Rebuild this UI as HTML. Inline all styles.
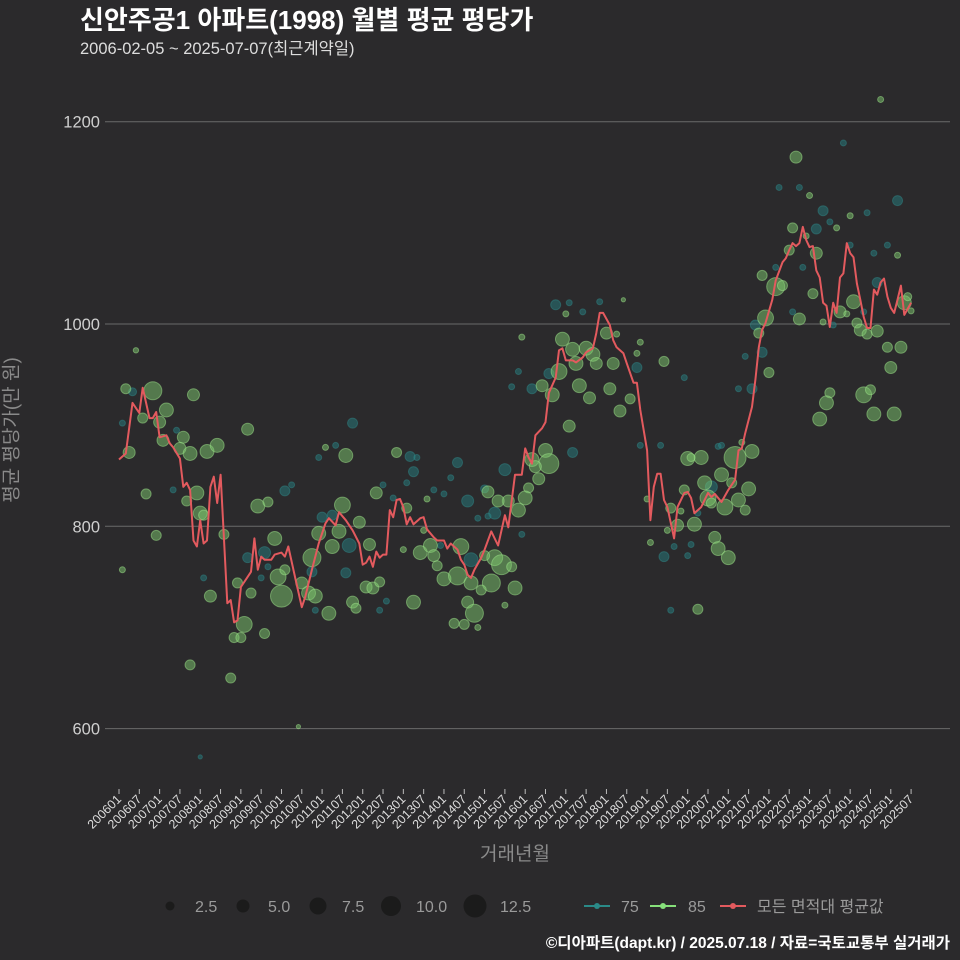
<!DOCTYPE html>
<html lang="ko"><head><meta charset="utf-8"><style>
html,body{margin:0;padding:0;background:#2b2a2c;}
svg{display:block;font-family:"Liberation Sans","Noto Sans CJK KR",sans-serif;}
</style></head><body>
<svg id="chart" width="960" height="960" viewBox="0 0 960 960">
<rect x="0" y="0" width="960" height="960" fill="#2b2a2c"/>
<text x="80" y="29" fill="#ffffff" font-size="26" font-weight="bold">신안주공1 아파트(1998) 월별 평균 평당가</text>
<text x="80" y="54" fill="#dddddd" font-size="16.5">2006-02-05 ~ 2025-07-07(최근계약일)</text>
<g id="grid"></g>
<g id="bub75"></g>
<g id="bub85"></g>
<g id="line"></g>
<g id="xaxis"></g>
<text x="12" y="430" fill="#8a8a8a" font-size="19" text-anchor="middle" transform="rotate(-90 12 430)" dominant-baseline="central">평균 평당가(만 원)</text>
<text x="515" y="860" fill="#8a8a8a" font-size="19" text-anchor="middle">거래년월</text>
<g>
<circle cx="170" cy="906" r="4.5" fill="#1b1b1b"/>
<text x="195" y="912" fill="#9a9a9a" font-size="16">2.5</text>
<circle cx="243" cy="906" r="6.5" fill="#1b1b1b"/>
<text x="268" y="912" fill="#9a9a9a" font-size="16">5.0</text>
<circle cx="318" cy="906" r="8.5" fill="#1b1b1b"/>
<text x="342" y="912" fill="#9a9a9a" font-size="16">7.5</text>
<circle cx="391" cy="906" r="10" fill="#1b1b1b"/>
<text x="416" y="912" fill="#9a9a9a" font-size="16">10.0</text>
<circle cx="475" cy="906" r="11.5" fill="#1b1b1b"/>
<text x="500" y="912" fill="#9a9a9a" font-size="16">12.5</text>
</g>
<g>
<line x1="584" y1="906" x2="610" y2="906" stroke="#2a8a88" stroke-width="2"/>
<circle cx="597" cy="906" r="3" fill="#2a8a88"/>
<text x="621" y="912" fill="#9a9a9a" font-size="16">75</text>
<line x1="650" y1="906" x2="676" y2="906" stroke="#86e07a" stroke-width="2"/>
<circle cx="663" cy="906" r="3" fill="#86e07a"/>
<text x="688" y="912" fill="#9a9a9a" font-size="16">85</text>
<line x1="720" y1="906" x2="746" y2="906" stroke="#e35a5e" stroke-width="2"/>
<circle cx="733" cy="906" r="3" fill="#e35a5e"/>
<text x="757" y="912" fill="#9a9a9a" font-size="16">모든 면적대 평균값</text>
</g>
<text x="950" y="948" fill="#ffffff" font-size="15.5" font-weight="bold" text-anchor="end">©디아파트(dapt.kr) / 2025.07.18 / 자료=국토교통부 실거래가</text>
</svg>
<script>
// months since 2006-01
const yTicks = [600, 800, 1000, 1200];
const xTickLabels = ["200601","200607","200701","200707","200801","200807","200901","200907","201001","201007","201101","201107","201201","201207","201301","201307","201401","201407","201501","201507","201601","201607","201701","201707","201801","201807","201901","201907","202001","202007","202101","202107","202201","202207","202301","202307","202401","202407","202501","202507"];
const lineMonth = [0,2,4,6,7,9,10,11,12,14,15,16,18,19,20,21,22,23,24,25,26,27,28,29,30,31,32,33,34,35,36,38,39,40,41,42,43,45,46,48,49,50,52,54,55,57,59,61,62,64,65,67,69,71,72,73,74,75,76,77,78,79,80,81,82,83,84,85,86,87,89,90,91,93,94,96,97,98,100,101,102,103,104,105,107,108,110,112,114,115,117,119,120,121,122,123,125,126,127,129,130,131,132,134,135,137,138,140,141,142,143,145,146,147,149,150,152,153,154,156,157,158,159,160,161,162,164,165,167,168,169,170,172,174,175,176,178,180,182,183,184,185,187,188,189,190,191,193,194,196,197,198,199,200,201,202,203,204,205,206,207,208,209,210,211,212,213,214,215,216,217,218,219,220,221,222,223,224,225,226,227,228,229,230,231,232,234];
const lineValue = [866,872,922,912,937,907,907,913,888,890,882,878,867,839,843,836,786,780,806,783,786,839,849,823,851,789,724,727,705,707,740,750,755,788,757,770,767,767,772,774,770,780,750,720,730,757,783,803,808,801,814,806,796,783,762,764,770,760,775,769,772,772,816,809,826,827,819,802,809,802,808,809,797,789,786,786,778,783,777,767,762,752,749,757,769,777,795,781,811,799,851,851,877,868,862,890,897,903,932,947,974,976,964,964,962,967,972,976,991,1011,1011,999,984,977,971,961,942,942,915,875,806,839,852,852,826,819,788,819,833,834,828,813,819,833,829,832,824,836,846,875,877,892,918,945,977,994,1001,1024,1043,1061,1065,1073,1080,1077,1080,1096,1083,1076,1077,1053,1046,1021,1018,997,1021,1011,1046,1050,1080,1070,1066,1040,1024,1007,996,996,1034,1029,1041,1045,1027,1016,1011,1024,1038,1009,1021];
const b85Month = [5,2,10,14,12,7,3,13,19,22,18,21,26,29,38,8,23,20,24,25,11,1,31,41,44,35,27,39,46,47,48,49,54,56,58,57,59,66,63,65,71,74,76,82,67,61,73,75,77,69,70,62,37,34,36,43,21,33,53,132,149,119,131,134,138,140,135,141,144,147,154,153,161,146,130,125,128,136,139,145,151,148,133,126,127,122,123,124,121,120,118,115,112,109,91,85,90,84,89,92,93,101,111,113,116,108,94,96,100,104,110,107,117,114,87,103,105,99,102,106,156,157,162,163,200,204,216,212,199,203,230,198,206,190,194,196,205,217,232,233,213,215,234,201,191,189,208,218,219,221,224,227,231,192,228,210,209,220,222,207,223,229,184,187,182,168,172,169,178,173,181,186,167,174,175,183,179,185,166,170,165,176,177,180,171,225];
const b85Value = [974,936,934,915,903,907,873,885,888,930,877,872,874,880,896,832,833,825,813,811,791,757,792,820,824,744,731,734,788,750,731,757,744,734,731,769,793,821,780,795,804,782,833,873,870,878,740,739,745,725,719,714,703,690,690,694,663,650,602,1010,1024,987,985,975,976,970,961,961,991,990,982,971,963,961,953,939,930,939,927,936,926,914,899,875,862,866,859,847,838,828,816,825,825,834,827,818,796,777,774,781,771,780,769,762,760,771,761,748,751,744,744,737,739,722,725,725,714,704,703,700,827,784,796,818,1165,1127,1107,1095,1095,1087,1068,1073,1070,1048,1037,1038,1030,1022,1021,1027,1012,1010,1013,1005,1006,991,1002,1001,994,990,993,977,977,952,957,932,922,930,935,906,911,911,883,874,868,867,868,868,851,843,843,837,836,828,823,826,819,816,815,802,801,789,778,769,718,1222];
const b85Size = [0.8,2.8,9,5.4,4,2.8,4,4,4,4,4,5.4,5.4,5.4,4,2.8,5.4,2.8,5.4,2.8,2.8,1,2.8,5.4,2.8,2.8,4,2.8,5.4,7,13.4,2.8,4,5.4,5.4,9,5.4,7,5.4,5.4,4,4,4,2.8,5.4,1,4,4,2.8,4,2.8,5.4,7,2.8,2.8,2.8,2.8,2.8,0.5,1,0.5,1,5.4,5.4,5.4,5.4,5.4,4,4,1,1,1,2.8,4,7,4,5.4,5.4,4,4,2.8,4,4,5.4,11,5.4,4,4,2.8,5.4,5.4,4,4,4,1,2.8,1,1,5.4,5.4,4,7,7,11,2.8,2.8,2.8,5.4,9,5.4,9,2.8,5.4,1,5.4,4,9,2.8,2.8,1,1,1,1,2.8,4,1,1,1,2.8,1,1,2.8,4,2.8,9,2.8,2.8,5.4,5.4,1.8,4,1,1,4,7,2.8,1,2.8,4,2.8,4,2.8,4,2.8,4,2.8,5.4,7,2.8,5.4,5.4,5.4,1,5.4,13.4,5.4,5.4,1.8,5.4,5.4,2.8,5.4,2.8,7,2.8,5.4,7,2.8,1,5.4,4,4,5.4,5.4,2.8,1];
const b75Month = [4,1,17,16,49,51,25,38,43,44,42,57,60,63,68,67,78,81,69,64,59,79,77,58,24,129,133,137,142,153,127,118,116,122,154,160,134,86,88,87,85,100,98,114,108,111,103,93,96,106,109,119,95,104,161,164,163,214,195,201,230,208,221,210,206,216,227,223,202,194,224,220,199,188,211,190,185,167,187,183,177,178,175,171,169,168];
const b75Value = [933,902,895,836,835,841,749,769,774,760,749,755,809,811,781,754,841,828,902,880,868,726,717,717,572,1019,1021,1012,1022,957,951,953,938,936,880,880,873,869,868,854,843,863,848,856,837,813,825,836,832,808,810,792,781,767,770,780,717,1179,1135,1135,1122,1112,1110,1101,1094,1078,1078,1070,1056,1056,1041,1012,1012,999,999,972,968,947,936,936,879,880,839,813,782,771];
const b75Size = [1.8,1,1,1,2.8,1,1,2.8,4,1,1,2.8,2.8,2.8,5.4,2.8,1,1,2.8,1,1,1,1,1,0.5,2.8,1,1,1,2.8,2.8,1,1,2.8,1,1,2.8,2.8,1,2.8,1,2.8,1,4,1.8,4,4,1,1,1,1,1,1,5.4,2.8,1,1,1,1,1,2.8,2.8,1,1,2.8,1,1,1,1,1,2.8,1,1,2.8,1,2.8,1,1,2.8,1,1,1,4,1,1,1];

const NS = "http://www.w3.org/2000/svg";
const X0 = 119, PXM = 3.385;
function xScale(m){ return X0 + m * PXM; }
function yScale(v){ return 324 - (v - 1000) * 1.0115; }
function rScale(s){ return 3 * Math.sqrt(s); }
function mk(tag, attrs, parent){ const e = document.createElementNS(NS, tag); for (const k in attrs) e.setAttribute(k, attrs[k]); parent.appendChild(e); return e; }

const grid = document.getElementById('grid');
yTicks.forEach(t => {
  const l = mk('line', {x1:105, x2:950, y1:yScale(t), y2:yScale(t), stroke:'#6a6a6a', 'stroke-width':1}, grid);
  
  
  const tx = mk('text', {x:100, y:yScale(t)+6, fill:'#cfcfcf', 'font-size':16.5, 'text-anchor':'end'}, grid);
  tx.textContent = t;
  
  
});

const xa = document.getElementById('xaxis');
xTickLabels.forEach((lab, i) => {
  const x = xScale(i * 6);
  const tk = mk('line', {x1:x, x2:x, y1:789, y2:794, stroke:'#bbbbbb', 'stroke-width':1}, xa);
  
  
  const tx = mk('text', {x:x+3, y:800, fill:'#dddddd', 'font-size':12.5, 'text-anchor':'end', transform:'rotate(-45 '+(x+3)+' 800)'}, xa);
  tx.textContent = lab;
  
  
});

function drawBubbles(gid, months, values, sizes, fill, stroke, name){
  const g = document.getElementById(gid);
  months.forEach((m, i) => {
    const c = mk('circle', {cx:xScale(m), cy:yScale(values[i]), r:rScale(sizes[i]), fill:fill, stroke:stroke, 'stroke-width':1}, g);
    
    
  });
}
drawBubbles('bub75', b75Month, b75Value, b75Size, 'rgba(38,125,128,0.5)', 'rgba(50,150,150,0.4)', 'bubble-75');
drawBubbles('bub85', b85Month, b85Value, b85Size, 'rgba(125,200,110,0.5)', 'rgba(160,230,140,0.5)', 'bubble-85');

const lg = document.getElementById('line');
const pts = lineMonth.map((m, i) => xScale(m).toFixed(1) + ',' + yScale(lineValue[i]).toFixed(1)).join(' ');
const pl = mk('polyline', {points:pts, fill:'none', stroke:'#e35a5e', 'stroke-width':2, 'stroke-linejoin':'round'}, lg);


</script>
</body></html>
